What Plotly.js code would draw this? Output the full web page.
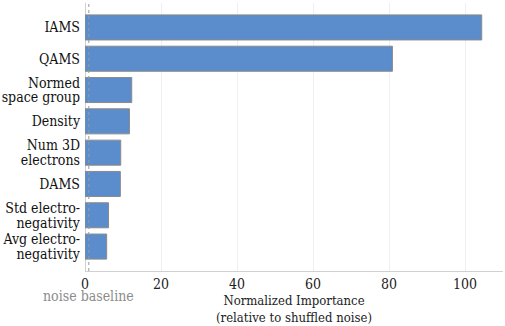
<!DOCTYPE html>
<html><head><meta charset="utf-8">
<script src="https://cdn.plot.ly/plotly-3.0.1.min.js"></script>
<style>html,body{margin:0;padding:0;background:#fff}#chart{width:505px;height:326px}</style>
</head><body><div id="chart"></div>
<script>
const features = ["IAMS","QAMS","Normed<br>space group","Density","Num 3D<br>electrons","DAMS","Std electro-<br>negativity","Avg electro-<br>negativity"];
const importance = [104.4, 80.9, 12.3, 11.7, 9.4, 9.3, 6.2, 5.7];
const noiseBaseline = 1;
const xTicks = [0,20,40,60,80,100];

const font = "DejaVu Serif Condensed, DejaVu Serif";
const gd = document.getElementById("chart");
Plotly.newPlot(gd, [{
  type: "bar", orientation: "h",
  y: features, x: importance,
  width: 0.8,
  marker: {color: "#5b8ccc", line: {color: "#8a8a8a", width: 1}},
  hoverinfo: "none"
}], {
  width: 505, height: 326,
  margin: {l: 85, r: 2, t: 3, b: 55},
  paper_bgcolor: "#fff", plot_bgcolor: "#fff",
  showlegend: false,
  font: {family: font, color: "#222"},
  xaxis: {
    range: [0, 110], tickvals: xTicks, ticks: "", ticklen: 0,
    showgrid: true, gridcolor: "#efefef", gridwidth: 1,
    zeroline: true, zerolinecolor: "#d0d0d0", zerolinewidth: 1,
    showline: true, linecolor: "#d0d0d0", linewidth: 1,
    tickfont: {size: 14, family: font, color: "#222"},
    title: {text: "Normalized Importance<br>(relative to shuffled noise)", font: {size: 13, family: font, color: "#222"}, standoff: 5}
  },
  yaxis: {
    type: "category", categoryorder: "array", categoryarray: features,
    range: [7.78, -0.78], showgrid: false, zeroline: false, showline: false,
    ticks: "", ticklabelstandoff: 4,
    tickfont: {size: 14, family: font, color: "#111"}
  },
  shapes: [{type: "line", xref: "x", yref: "paper", x0: noiseBaseline, x1: noiseBaseline, y0: 0, y1: 1,
    line: {color: "#999", width: 1, dash: "dot"}}],
  annotations: [{xref: "x", yref: "paper", x: noiseBaseline, y: 0, yshift: -25, yanchor: "middle", xanchor: "center",
    text: "noise baseline", showarrow: false, font: {size: 14, family: font, color: "#8c8c8c"}}]
}, {staticPlot: true}).then(function(){
  gd.querySelectorAll(".ytick text").forEach(function(t){
    const lines = t.querySelectorAll("tspan.line");
    if (lines.length > 1) {
      lines.forEach(function(s, i){ if (i > 0) s.setAttribute("dy", "1.05em"); });
      const shift = (lines.length - 1) * 0.25 * 14 / 2;
      const tr = t.getAttribute("transform") || "";
      t.setAttribute("transform", tr + " translate(0," + shift + ")");
    }
  });
});
</script></body></html>
